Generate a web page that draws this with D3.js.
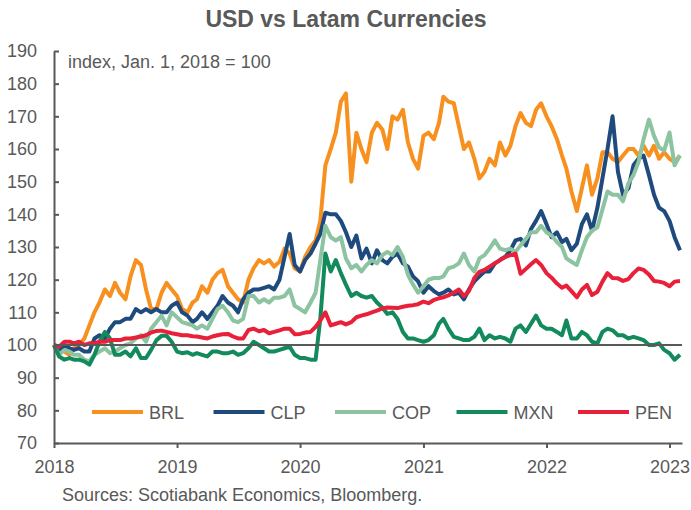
<!DOCTYPE html>
<html>
<head>
<meta charset="utf-8">
<script src="https://cdn.jsdelivr.net/npm/d3@7/dist/d3.min.js"></script>
<style>
  body { margin: 0; background: #fff; }
  svg text { font-family: "Liberation Sans", Arial, sans-serif; fill: #595959; }
</style>
</head>
<body>
<svg id="chart" width="691" height="510"></svg>
<script>
// half-month sample points, Jan 2018 .. Feb 2023 (index, Jan. 1, 2018 = 100)
var dates = d3.range(0, 61.5, 0.5).map(function (m) {
    return new Date(2018, Math.floor(m), m % 1 ? 16 : 1);
});

var BRL = [100,99,98,97,99,100,102,106,110,113,117,115,119,116,114,121,126,124.5,117,111,
    111,116,119,117,115,111,110,113,114,118,116,120,122,123,118,116,114,113,120,123.5,
    126,125,126,124,125.5,129.5,128,123.5,122.5,127,130,132,138,155,160,165,174.5,177,150,165,
    160,156,165,168,166,160,170,169,172,162,157,154,164,165,163,168,176,174.5,174,167,
    160,162,157,151,153,157,155,162,158,161,167,171,168,167,172,174,170,167,163,158,
    154,147,141,148,155,146,151,159,159,157,156,158,160,160,158,161,158,161,157,159,
    157,156,158];
var CLP = [100,98,100,99,98.5,99,98,98,102,103,102,105,107,107,108,108,111,110,111,110,
    111,110,110,112,113,110,109,107,108,110,108,110,112,115,113,112,110,114,116,117,
    117,117.5,118,117,120,127,134,124.5,122.5,126,128,131,134,140.5,140,140,138,134.5,130,133.5,
    126.5,129.5,125,129,126,125,127,128,125,124,121,119.5,116,118,116.5,115.5,116,117,115.5,116,
    114,117,119.5,121,122.5,122.5,125,126,127,129,132,132.5,130.5,135.5,138,141,137,133,134.5,131.5,
    132.5,129,131,137,140,135,142,151,160,170,153,146,148,155,157,158,152,146,142,141,
    138,133,129];
var COP = [100,97,98.5,98,97,97,95.5,95,97,98,99,97.5,98,99,100,100.5,102,103,101,105,
    107,109,106,110,108.5,107,106.5,106,105,106,105,108,111,112,110,107.5,107,108,115,115,
    113,114,113,114.5,114.5,115,117,112,111,110,113,116,126,136.5,133,132,133,126.5,123.5,124.5,
    122.5,124.5,126,125,127.5,128.5,127.5,130,127,121.5,118.5,116,118,120,120.5,120.5,121,123.5,124,125,
    128,124.5,122.5,126.5,127.5,129.5,132,129.5,129,129.5,128.5,130.5,132.5,134.5,134.5,136.5,134.5,133.5,131.5,130,
    126.5,125.5,124.5,129,133,135,136,141.5,147,146,146,144,149.5,152,156,163,169,164,160.5,159.5,
    165,155,158];
var MXN = [100,96.5,95.5,96,95.5,95.5,95,94,97,101,104,102,97,97,98,96.5,99,96,96,98.5,
    101.5,102.8,102.8,101,98,97.5,97.8,97,97.5,97,96.5,98,98,97.5,97.5,98,97,97.5,99,101,
    100,99,98,98,98.5,99,99.5,97,96,96,95.5,95.5,108,128,122.5,126,122,118.5,115,116,
    115,114.5,115,113,111.5,109.5,110,108,104,102,102,101.5,101,101.5,103,106.5,108,105,102.5,102,
    101.5,101.5,102.5,105,101.5,103,102,102.5,102,101,105,106,104,106.5,109,106,105,105,104,103,
    107.5,102,102,104,103,101,100.5,104,105,104.5,103,103,102,102.5,102,101.5,100,100,100.5,98.5,
    97.5,95.5,97];
var PEN = [100,99.5,101,101,100.5,101,100,100.5,100.5,101,101,101.5,101.5,101.5,102,102,102.3,102.6,103,103.8,
    104.3,104.4,104,103.6,103.3,103,103,102.7,102.6,102.3,102,102.6,103,103.3,103.4,102.6,102,102,104.6,105,
    104.2,104.6,103.6,104,104.5,105,105,103.3,103.4,103.8,104,105.5,107.5,110,106,106.5,107,106.3,107,108.5,
    109,109.4,110,110.5,111.2,111.5,111.4,111.3,111.7,112,112.2,112.5,113.3,112.8,113.8,114.3,114.6,115.2,116,117,
    115,116.5,120.5,122.4,123,124,125,126,127,127.5,128,121.8,123.3,124.7,126,124.5,122,120.6,118.8,117.5,
    118.2,116.5,114.6,117,118.4,115.3,116.3,119.4,122,120.5,120.4,119.6,120.2,122,123.4,123,121.6,119.6,119.4,119,
    118,119.4,119.6];

var seriesNames = ["BRL", "CLP", "COP", "MXN", "PEN"];
var seriesValues = [BRL, CLP, COP, MXN, PEN];
var seriesColors = ["#F7901E", "#1F4A7E", "#8CC3A1", "#128A5C", "#E8203A"];
var yTicks = d3.range(70, 191, 10);

var svg = d3.select("#chart");
var x = d3.scaleTime().domain([new Date(2018, 0, 1), new Date(2023, 1, 7)]).range([54, 682]);
var y = d3.scaleLinear().domain([70, 190]).range([443, 51]);

// title + unit note
svg.append("text").attr("x", 346).attr("y", 27).attr("text-anchor", "middle")
    .style("font-size", "23px").style("font-weight", 700).text("USD vs Latam Currencies");
svg.append("text").attr("x", 68).attr("y", 68).style("font-size", "18px")
    .text("index,  Jan. 1, 2018 =  100");

// lines
var line = d3.line().x(function (d, i) { return x(dates[i]); }).y(function (d) { return y(d); });
svg.selectAll(".series").data(seriesValues).enter().append("path")
    .attr("class", "series")
    .attr("d", line)
    .attr("fill", "none")
    .attr("stroke", function (d, i) { return seriesColors[i]; })
    .attr("stroke-width", 4)
    .attr("stroke-linejoin", "round");

// 100 reference line
svg.append("line").attr("x1", x.range()[0]).attr("x2", x.range()[1])
    .attr("y1", y(100)).attr("y2", y(100))
    .attr("stroke", "#595959").attr("stroke-width", 2);

// axes
var yAxis = svg.append("g").attr("transform", "translate(54,0)")
    .call(d3.axisLeft(y).tickValues(yTicks).tickSize(-5).tickSizeOuter(0).tickPadding(17));
var xAxis = svg.append("g").attr("transform", "translate(0,443)")
    .call(d3.axisBottom(x).ticks(d3.timeYear).tickFormat(d3.timeFormat("%Y"))
        .tickSize(5).tickSizeOuter(0).tickPadding(12));
[yAxis, xAxis].forEach(function (g) {
    g.selectAll("path, line").attr("stroke", "#595959").attr("stroke-width", 2);
    g.selectAll("text").attr("fill", "#595959")
        .style("font-size", "18px").style("font-family", "Liberation Sans, Arial, sans-serif");
});

// legend
var legend = svg.selectAll(".legend").data(seriesNames).enter().append("g")
    .attr("class", "legend")
    .attr("transform", function (d, i) { return "translate(" + (92 + i * 121.5) + ",412)"; });
legend.append("line").attr("x1", 0).attr("x2", 51).attr("y1", 0).attr("y2", 0)
    .attr("stroke", function (d, i) { return seriesColors[i]; }).attr("stroke-width", 4);
legend.append("text").attr("x", 57).attr("y", 6.5).style("font-size", "18px").text(function (d) { return d; });

// source
svg.append("text").attr("x", 62).attr("y", 501).style("font-size", "18px")
    .text("Sources: Scotiabank Economics, Bloomberg.");
</script>
</body>
</html>
